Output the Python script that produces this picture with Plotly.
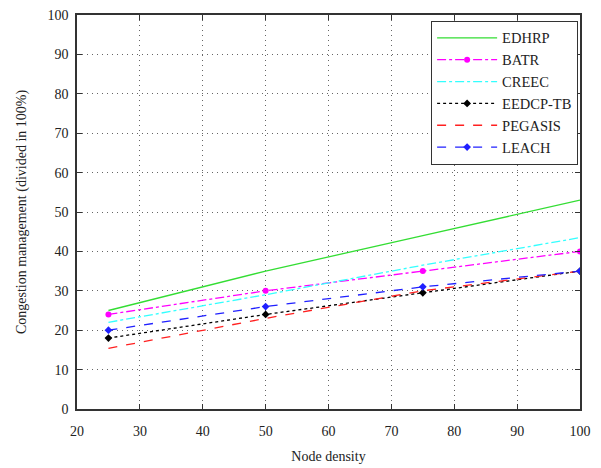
import plotly.graph_objects as go

node_density = [25, 50, 75, 100]
edhrp = [25, 35, 44, 53]
batr = [24, 30, 35, 40]
creec = [22, 29, 36.5, 43.5]
eedcp_tb = [18, 24, 29.5, 35]
pegasis = [15.4, 23, 30, 35]
leach = [20, 26, 31, 35]

fig = go.Figure()
series = [
    ("EDHRP", edhrp, "#33dd33", "solid", None),
    ("BATR", batr, "#ff00ff", "dashdot", "circle"),
    ("CREEC", creec, "#33ffff", "dashdot", None),
    ("EEDCP-TB", eedcp_tb, "#000000", "dot", "diamond"),
    ("PEGASIS", pegasis, "#ff2020", "dash", None),
    ("LEACH", leach, "#2020ff", "dash", "diamond"),
]
for name, ys, col, dash, sym in series:
    fig.add_trace(go.Scatter(
        x=node_density, y=ys, name=name,
        mode="lines+markers" if sym else "lines",
        line=dict(color=col, dash=dash, width=1.3),
        marker=dict(symbol=sym or "circle", size=6, color=col),
    ))

font = dict(family="Liberation Serif, Times New Roman, serif", size=14, color="#222")
fig.update_layout(
    width=601, height=468,
    margin=dict(l=77, r=21, t=15, b=59, autoexpand=False),
    paper_bgcolor="white", plot_bgcolor="white",
    font=font,
    showlegend=True,
    legend=dict(x=0.704, y=0.985, xanchor="left", yanchor="top",
                bordercolor="#333", borderwidth=1, bgcolor="white",
                font=dict(family="Liberation Serif, serif", size=14.5, color="#222"),
                tracegroupgap=0, itemwidth=60),
)
fig.update_xaxes(range=[20, 100], dtick=10, title=dict(text="Node density", font=font, standoff=14),
                 ticklabelstandoff=8, automargin=False,
                 showgrid=True, gridcolor="#666", griddash="1px,4px", gridwidth=1,
                 showline=True, linecolor="#333", linewidth=1.5, mirror="ticks",
                 ticks="inside", ticklen=5, tickcolor="#333", zeroline=False)
fig.update_yaxes(range=[0, 100], dtick=10, title=dict(text="Congestion management (divided in 100%)", font=font, standoff=18),
                 ticklabelstandoff=4, automargin=False,
                 showgrid=True, gridcolor="#666", griddash="1px,4px", gridwidth=1,
                 showline=True, linecolor="#333", linewidth=1.5, mirror="ticks",
                 ticks="inside", ticklen=5, tickcolor="#333", zeroline=False)
fig.write_html("out.html", config={"displayModeBar": False},
               post_script="document.body.style.margin='0';")
